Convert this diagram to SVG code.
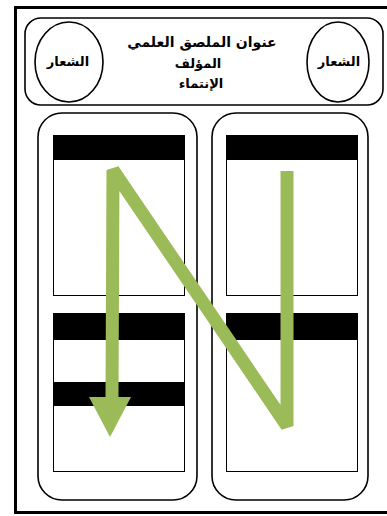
<svg xmlns="http://www.w3.org/2000/svg" width="387" height="516" viewBox="0 0 387 516">
<style>
.ln{fill:none;stroke:#000;stroke-width:1.6}
.pn{fill:#fff;stroke:#000;stroke-width:1}
.bar{fill:#000}
.t{font-family:"DejaVu Sans","Noto Sans",sans-serif;font-weight:bold;fill:#000;text-anchor:middle}
.arrow{fill:none;stroke:#9BBB59;stroke-width:13;stroke-linejoin:bevel}
</style>
<rect x="0" y="0" width="387" height="516" fill="#fff"/>
<rect x="15.5" y="7.5" width="380" height="505" fill="none" stroke="#000" stroke-width="3"/>
<g id="header">
<rect x="25" y="18" width="358" height="87" rx="16" class="ln"/>
</g>
<g id="logo-left">
<ellipse cx="69" cy="62" rx="34" ry="40" class="ln"/>
<text x="68" y="66" class="t" font-size="13">الشعار</text>
</g>
<g id="logo-right">
<ellipse cx="338" cy="62" rx="31" ry="40" class="ln"/>
<text x="339" y="66" class="t" font-size="13">الشعار</text>
</g>
<g id="title">
<text x="202" y="47" class="t" font-size="14">عنوان الملصق العلمي</text>
<text x="198" y="68" class="t" font-size="13">المؤلف</text>
<text x="201" y="88" class="t" font-size="13">الإنتماء</text>
</g>
<g id="column-left">
<rect x="38" y="113" width="159" height="387" rx="24" class="ln"/>
<rect x="53.5" y="135.5" width="131" height="160" class="pn"/>
<rect x="53.5" y="135" width="131" height="25" class="bar"/>
<rect x="53.5" y="313.5" width="131" height="158" class="pn"/>
<rect x="53.5" y="313" width="131" height="27" class="bar"/>
<rect x="53.5" y="382" width="131" height="24" class="bar"/>
</g>
<g id="column-right">
<rect x="212" y="113" width="156" height="387" rx="24" class="ln"/>
<rect x="226.5" y="135.5" width="131" height="160" class="pn"/>
<rect x="226.5" y="135" width="131" height="25" class="bar"/>
<rect x="226.5" y="313.5" width="131" height="158" class="pn"/>
<rect x="226.5" y="313" width="131" height="27" class="bar"/>
</g>
<g id="connectors">
<polyline points="287,171 287,426 113,170 112,398" class="arrow"/>
<polygon points="89,397 131,397 110,437" fill="#9BBB59"/>
</g>
</svg>
